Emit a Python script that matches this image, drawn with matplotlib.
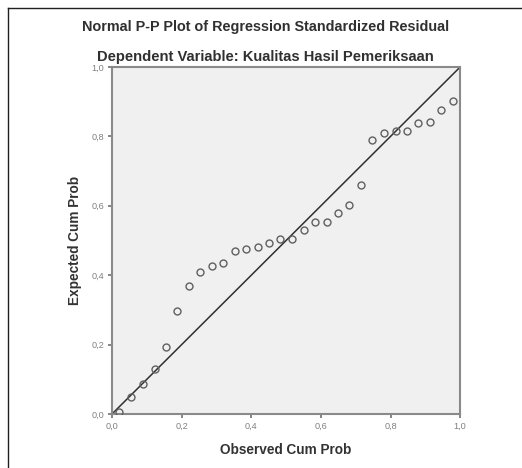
import matplotlib
matplotlib.use("Agg")
import matplotlib.pyplot as plt
from matplotlib.lines import Line2D

plt.rcParams['font.family'] = ['Liberation Sans', 'DejaVu Sans']

# observed vs expected cumulative probability
observed = [0.020, 0.055, 0.089, 0.123, 0.155, 0.188, 0.221, 0.254, 0.286, 0.320,
            0.352, 0.385, 0.419, 0.452, 0.483, 0.517, 0.550, 0.583, 0.617, 0.649,
            0.682, 0.715, 0.748, 0.782, 0.815, 0.848, 0.880, 0.914, 0.946, 0.980]
expected = [0.005, 0.050, 0.085, 0.129, 0.192, 0.298, 0.369, 0.409, 0.427, 0.434,
            0.470, 0.476, 0.480, 0.492, 0.504, 0.504, 0.529, 0.552, 0.552, 0.580,
            0.603, 0.659, 0.790, 0.809, 0.816, 0.816, 0.838, 0.841, 0.876, 0.903]
ticks = [0.0, 0.2, 0.4, 0.6, 0.8, 1.0]
tick_labels = ['0,0', '0,2', '0,4', '0,6', '0,8', '1,0']

fig = plt.figure(figsize=(5.22, 4.68), dpi=100)
ax = fig.add_axes([0.2146, 0.1154, 0.667, 0.7415])
ax.set_facecolor('#f0f0f0')

ax.plot([0, 1], [0, 1], color='#303030', lw=1.1, zorder=2)
ax.plot(observed, expected, 'o', ms=5.0, mfc='none', mec='#606060', mew=1.0, zorder=3)

ax.set_xlim(0, 1)
ax.set_ylim(0, 1)
ax.set_xticks(ticks)
ax.set_yticks(ticks)
ax.set_xticklabels(tick_labels)
ax.set_yticklabels(tick_labels)
ax.tick_params(direction='out', length=3, width=1.2, color='#707070',
               labelsize=6.6, labelcolor='#808080', pad=2.5)
for s in ax.spines.values():
    s.set_color('#8a8a8a')
    s.set_linewidth(1.5)

ax.set_xlabel('Observed Cum Prob', fontsize=9.8, fontweight='bold', color='#333333', labelpad=9)
ax.set_ylabel('Expected Cum Prob', fontsize=9.8, fontweight='bold', color='#333333', labelpad=7)

fig.text(0.508, 0.942, 'Normal P-P Plot of Regression Standardized Residual',
         ha='center', va='center', fontsize=10.4, fontweight='bold', color='#303030')
fig.text(0.508, 0.878, 'Dependent Variable: Kualitas Hasil Pemeriksaan',
         ha='center', va='center', fontsize=10.6, fontweight='bold', color='#303030')

# outer frame (only top and left are visible)
fig.add_artist(Line2D([8 / 522, 1], [1 - 8 / 468, 1 - 8 / 468], color='#202020', lw=1.0))
fig.add_artist(Line2D([8 / 522, 8 / 522], [0, 1 - 8 / 468], color='#202020', lw=1.0))

fig.savefig('out.png', dpi=100)
